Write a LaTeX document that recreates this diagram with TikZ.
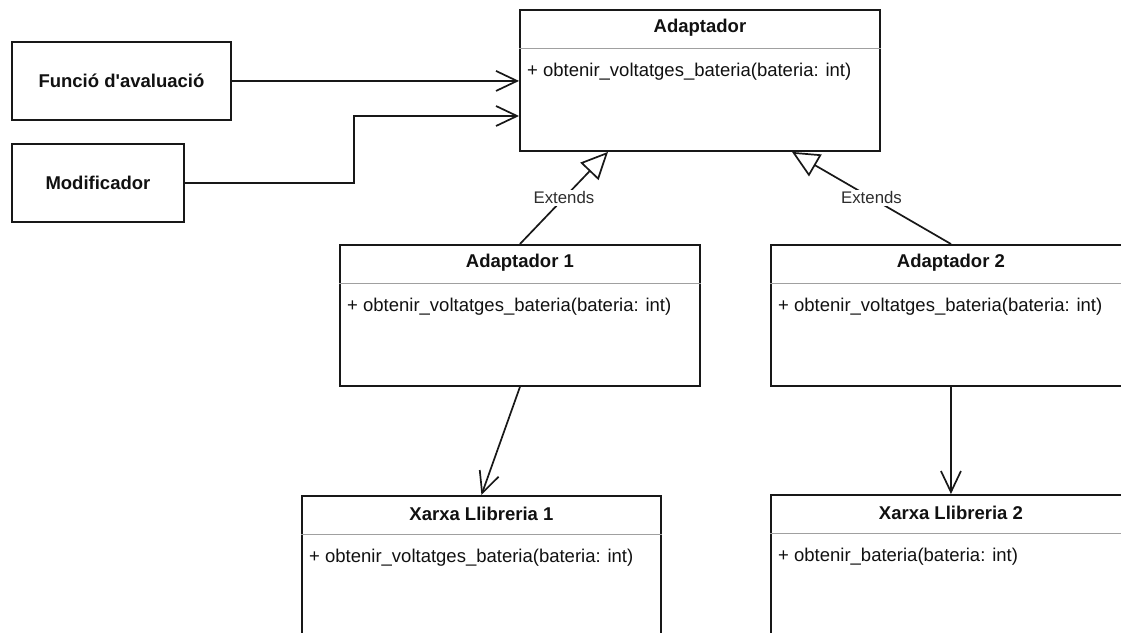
\documentclass[tikz,border=0pt]{standalone}
\usepackage{fontspec}
\setmainfont{Liberation Sans}
\usetikzlibrary{arrows.meta,calc}

\definecolor{linec}{RGB}{24,24,24}
\definecolor{textc}{RGB}{17,17,17}
\definecolor{labelc}{RGB}{45,45,45}
\definecolor{sepc}{RGB}{160,160,160}

\tikzset{
  box/.style={draw=linec, line width=1.9pt, fill=white, rectangle,
              anchor=north west, inner sep=0pt},
  classtitle/.style={font=\bfseries\fontsize{18.5}{22}\selectfont, text=textc, inner sep=0pt},
  member/.style={font=\fontsize{18.5}{22}\selectfont, text=textc, inner sep=0pt, anchor=west},
  sepline/.style={draw=sepc, line width=1.2pt},
  assoc/.style={draw=linec, line width=1.7pt,
                -{Straight Barb[length=21pt,width=20pt,line width=1.7pt]}},
  extends/.style={draw=linec, line width=1.7pt,
                  -{Triangle[open,length=27pt,width=25pt,line width=1.7pt,fill=white]}},
  extlabel/.style={font=\fontsize{16.8}{20}\selectfont, text=labelc,
                   fill=white, inner sep=2pt}
}

% UML class: name, north-west corner, width, height, title, member
\newcommand\umlclass[6]{%
  \node[box, minimum width=#3, minimum height=#4] (#1) at #2 {};
  \node[classtitle] (#1-title) at ($(#1.north)+(0,-19)$) {#5};
  \draw[sepline] ($(#1.north west)+(0,-39.5)$) -- ($(#1.north east)+(0,-39.5)$);
  \node[member] (#1-member) at ($(#1.north west)+(8,-62.5)$) {#6};
}

\begin{document}
\begin{tikzpicture}[x=1pt,y=1pt]
  \useasboundingbox (0,0) rectangle (1121,-632);
  \clip (0,0) rectangle (1121,-632);
  \fill[white] (0,0) rectangle (1121,-632);

  % plain boxes on the left
  \node[box, minimum width=219pt, minimum height=78pt] (func) at (11,-41) {};
  \node[classtitle] at (func.center) {Funció d\textquotesingle avaluació};
  \node[box, minimum width=172pt, minimum height=78pt] (modif) at (11,-143) {};
  \node[classtitle] at (modif.center) {Modificador};

  % classes
  \umlclass{adapt}{(519,-9)}{360pt}{141pt}{Adaptador}{+ obtenir\_voltatges\_bateria(bateria: int)}
  \umlclass{adaptA}{(339,-244)}{360pt}{141pt}{Adaptador 1}{+ obtenir\_voltatges\_bateria(bateria: int)}
  \umlclass{adaptB}{(770,-244)}{360pt}{141pt}{Adaptador 2}{+ obtenir\_voltatges\_bateria(bateria: int)}
  \umlclass{libA}{(301,-495)}{359pt}{141pt}{Xarxa Llibreria 1}{+ obtenir\_voltatges\_bateria(bateria: int)}
  \umlclass{libB}{(770,-494)}{360pt}{141pt}{Xarxa Llibreria 2}{+ obtenir\_bateria(bateria: int)}

  % attachment points on the Adaptador border
  \coordinate (adaptIn) at ($(adapt.north west)+(0,-107)$);
  \coordinate (extA) at ($(adapt.south west)+(89,0)$);
  \coordinate (extB) at ($(adapt.south west)+(273,0)$);

  % associations
  \draw[assoc] (func.east) -- (func.east -| adapt.west);
  \draw[assoc] (modif.east) -- ++(169,0) |- (adaptIn);
  \draw[assoc] (adaptA.south) -- (libA.north);
  \draw[assoc] (adaptB.south) -- (libB.north);

  % generalisations
  \draw[extends] (adaptA.north) -- node[extlabel] {Extends} (extA);
  \draw[extends] (adaptB.north) -- node[extlabel] {Extends} (extB);
\end{tikzpicture}
\end{document}
